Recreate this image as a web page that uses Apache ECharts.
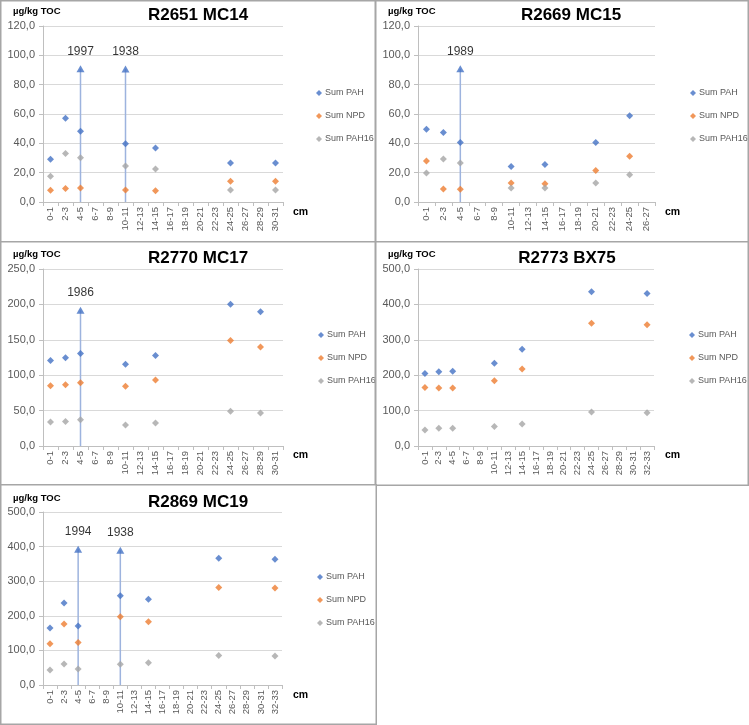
<!DOCTYPE html>
<html>
<head>
<meta charset="utf-8">
<script src="https://cdn.jsdelivr.net/npm/echarts@6/dist/echarts.min.js"></script>
<style>
html,body{margin:0;padding:0;background:#fff;}
body{width:749px;height:725px;position:relative;overflow:hidden;}
.panel{position:absolute;}
</style>
</head>
<body>
<div id="p1" class="panel"></div>
<div id="p2" class="panel"></div>
<div id="p3" class="panel"></div>
<div id="p4" class="panel"></div>
<div id="p5" class="panel"></div>
<script>
// ---------- tick labels (depth categories) ----------
const CATS_MC14 = ['0-1','2-3','4-5','6-7','8-9','10-11','12-13','14-15','16-17','18-19','20-21','22-23','24-25','26-27','28-29','30-31'];
const CATS_MC15 = ['0-1','2-3','4-5','6-7','8-9','10-11','12-13','14-15','16-17','18-19','20-21','22-23','24-25','26-27'];
const CATS_MC17 = ['0-1','2-3','4-5','6-7','8-9','10-11','12-13','14-15','16-17','18-19','20-21','22-23','24-25','26-27','28-29','30-31'];
const CATS_BX75 = ['0-1','2-3','4-5','6-7','8-9','10-11','12-13','14-15','16-17','18-19','20-21','22-23','24-25','26-27','28-29','30-31','32-33'];
const CATS_MC19 = ['0-1','2-3','4-5','6-7','8-9','10-11','12-13','14-15','16-17','18-19','20-21','22-23','24-25','26-27','28-29','30-31','32-33'];

const SERIES_NAMES = ['Sum PAH','Sum NPD','Sum PAH16'];

// ---------- R2651 MC14 ----------
const MC14_PAH   = [29.2, 57.1, 48.3, null, null, 39.8, null, 36.9, null, null, null, null, 26.6, null, null, 26.6];
const MC14_NPD   = [8.0, 9.2, 9.6, null, null, 8.2, null, 7.6, null, null, null, null, 14.2, null, null, 14.2];
const MC14_PAH16 = [17.5, 33.0, 30.2, null, null, 24.6, null, 22.5, null, null, null, null, 8.2, null, null, 8.2];
const MC14_MARK_CATS  = ['4-5','10-11'];
const MC14_MARK_YEARS = ['1997','1938'];
const MC14_MARK_TOP   = [90.8, 90.6];

// ---------- R2669 MC15 ----------
const MC15_PAH   = [49.6, 47.4, 40.6, null, null, 24.2, null, 25.5, null, null, 40.6, null, 58.8];
const MC15_NPD   = [28.0, 8.9, 8.7, null, null, 12.9, null, 12.5, null, null, 21.4, null, 31.2];
const MC15_PAH16 = [19.8, 29.4, 26.6, null, null, 9.6, null, 9.6, null, null, 12.9, null, 18.5];
const MC15_MARK_CATS  = ['4-5'];
const MC15_MARK_YEARS = ['1989'];
const MC15_MARK_TOP   = [90.8];

// ---------- R2770 MC17 ----------
const MC17_PAH   = [120.8, 124.5, 130.5, null, null, 115.6, null, 128.0, null, null, null, null, 200.2, null, 189.6];
const MC17_NPD   = [85.0, 86.5, 89.4, null, null, 84.3, null, 93.3, null, null, null, null, 149.0, null, 139.8];
const MC17_PAH16 = [34.0, 34.6, 36.9, null, null, 29.8, null, 32.5, null, null, null, null, 49.0, null, 46.5];
const MC17_MARK_CATS  = ['4-5'];
const MC17_MARK_YEARS = ['1986'];
const MC17_MARK_TOP   = [191.8];

// ---------- R2773 BX75 ----------
const BX75_PAH   = [205.0, 209.5, 211.0, null, null, 234.0, null, 273.5, null, null, null, null, 435.5, null, null, null, 430.5];
const BX75_NPD   = [165.5, 164.0, 164.0, null, null, 184.0, null, 217.5, null, null, null, null, 347.0, null, null, null, 342.5];
const BX75_PAH16 = [45.5, 50.0, 50.0, null, null, 55.0, null, 62.5, null, null, null, null, 96.0, null, null, null, 94.0];

// ---------- R2869 MC19 ----------
const MC19_PAH   = [164.5, 237.0, 170.5, null, null, 258.0, null, 247.5, null, null, null, null, 366.5, null, null, null, 363.5];
const MC19_NPD   = [119.5, 176.5, 122.5, null, null, 197.5, null, 183.0, null, null, null, null, 282.0, null, null, null, 280.0];
const MC19_PAH16 = [43.0, 61.0, 46.5, null, null, 60.0, null, 64.0, null, null, null, null, 85.5, null, null, null, 83.5];
const MC19_MARK_CATS  = ['4-5','10-11'];
const MC19_MARK_YEARS = ['1994','1938'];
const MC19_MARK_TOP   = [392.5, 389.5];

// ---------- panel layout ----------
const PANELS = [
  {id:'p1', left:0,   top:0,   w:376, h:243, title:'R2651 MC14', tx:198, ty:15, cats:CATS_MC14, yMax:120, yInt:20,
   grid:{left:43, top:26, width:240, height:176}, cm:[293,212], leg:[311,82],
   data:[MC14_PAH, MC14_NPD, MC14_PAH16], marks:[MC14_MARK_CATS, MC14_MARK_YEARS, MC14_MARK_TOP]},
  {id:'p2', left:375, top:0,   w:374, h:243, title:'R2669 MC15', tx:196, ty:15, cats:CATS_MC15, yMax:120, yInt:20,
   grid:{left:43, top:26, width:237, height:176}, cm:[290,212], leg:[310,82],
   data:[MC15_PAH, MC15_NPD, MC15_PAH16], marks:[MC15_MARK_CATS, MC15_MARK_YEARS, MC15_MARK_TOP]},
  {id:'p3', left:0,   top:241, w:376, h:245, title:'R2770 MC17', tx:198, ty:17, cats:CATS_MC17, yMax:250, yInt:50,
   grid:{left:43, top:28, width:240, height:177}, cm:[293,214], leg:[313,83],
   data:[MC17_PAH, MC17_NPD, MC17_PAH16], marks:[MC17_MARK_CATS, MC17_MARK_YEARS, MC17_MARK_TOP]},
  {id:'p4', left:375, top:241, w:374, h:245, title:'R2773 BX75', tx:192, ty:17, cats:CATS_BX75, yMax:500, yInt:100,
   grid:{left:43, top:28, width:236, height:177}, cm:[290,214], leg:[309,83],
   data:[BX75_PAH, BX75_NPD, BX75_PAH16], marks:null},
  {id:'p5', left:0,   top:484, w:377, h:241, title:'R2869 MC19', tx:198, ty:18, cats:CATS_MC19, yMax:500, yInt:100,
   grid:{left:43, top:28, width:239, height:173}, cm:[293,211], leg:[312,82],
   data:[MC19_PAH, MC19_NPD, MC19_PAH16], marks:[MC19_MARK_CATS, MC19_MARK_YEARS, MC19_MARK_TOP]}
];

const COLORS = ['#4472C4','#ED7D31','#A5A5A5'];
const FONT = "'Liberation Sans', Arial, sans-serif";
const AXIS_GRAY = '#BFBFBF';
const GRID_GRAY = '#D9D9D9';

PANELS.forEach(p => {
  const el = document.getElementById(p.id);
  el.style.left = p.left + 'px';
  el.style.top = p.top + 'px';
  el.style.width = p.w + 'px';
  el.style.height = p.h + 'px';
  const chart = echarts.init(el, null, {renderer:'canvas'});

  const series = [];
  SERIES_NAMES.forEach((name, i) => {
    series.push({
      name: name, type: 'scatter', data: p.data[i],
      symbol: 'diamond', symbolSize: 7,
      itemStyle: {color: COLORS[i]}, z: 5
    });
  });
  if (p.marks) {
    const [mc, my, mt] = p.marks;
    mc.forEach((c, k) => {
      series.push({
        type: 'line', data: [[c, 0], [c, mt[k]]], symbol: 'none',
        lineStyle: {color: '#9DB3DE', width: 1.5}, silent: true, z: 3
      });
    });
    series.push({
      type: 'scatter', symbol: 'triangle', symbolSize: [8, 7],
      data: mc.map((c, k) => [c, mt[k], my[k]]),
      itemStyle: {color: '#4472C4'}, z: 6,
      label: {show: true, position: 'top', distance: 8, formatter: q => q.value[2],
              color: '#000', fontSize: 12, fontFamily: FONT}
    });
  }

  chart.setOption({
    animation: false,
    backgroundColor: '#fff',
    textStyle: {fontFamily: FONT},
    grid: Object.assign({}, p.grid, {containLabel: false}),
    legend: {
      data: SERIES_NAMES.map(n => ({name: n, icon: 'diamond'})),
      orient: 'vertical', left: p.leg[0], top: p.leg[1],
      itemWidth: 6, itemHeight: 6, itemGap: 11,
      textStyle: {fontSize: 9, color: '#595959', lineHeight: 12, fontFamily: FONT, padding:[0,0,0,-2]},
      selectedMode: false
    },
    xAxis: {
      type: 'category', data: p.cats, boundaryGap: true,
      axisLine: {lineStyle: {color: AXIS_GRAY, width: 1}},
      axisTick: {show: true, alignWithLabel: false, length: 4, lineStyle: {color: AXIS_GRAY}},
      axisLabel: {rotate: 90, interval: 0, fontSize: 9.5, color: '#595959', margin: 5, fontFamily: FONT},
      splitLine: {show: false}
    },
    yAxis: {
      type: 'value', min: 0, max: p.yMax, interval: p.yInt,
      axisLine: {show: true, lineStyle: {color: AXIS_GRAY, width: 1}},
      axisTick: {show: true, length: 4, lineStyle: {color: AXIS_GRAY}},
      axisLabel: {fontSize: 11, color: '#595959', margin: 8, fontFamily: FONT,
                  formatter: v => v.toFixed(1).replace('.', ',')},
      splitLine: {show: true, lineStyle: {color: GRID_GRAY, width: 1}}
    },
    graphic: [
      {type: 'rect', shape: {x: 0.75, y: 0.75, width: p.w - 1.5, height: p.h - 1.5},
       style: {fill: null, stroke: '#A6A6A6', lineWidth: 1.5}, silent: true, z: 100},
      {type: 'text', x: p.tx, y: p.ty, z: 50,
       style: {text: p.title, fontSize: 17, fontWeight: 'bold', fill: '#000', fontFamily: FONT,
               align: 'center', verticalAlign: 'middle'}},
      {type: 'text', x: 13, y: p.ty - 4, z: 50,
       style: {text: 'µg/kg TOC', fontSize: 9.5, fontWeight: 'bold', fill: '#000', fontFamily: FONT,
               verticalAlign: 'middle'}},
      {type: 'text', x: p.cm[0], y: p.cm[1], z: 50,
       style: {text: 'cm', fontSize: 10.5, fontWeight: 'bold', fill: '#000', fontFamily: FONT,
               verticalAlign: 'middle'}}
    ],
    series: series
  });
});
</script>
</body>
</html>
